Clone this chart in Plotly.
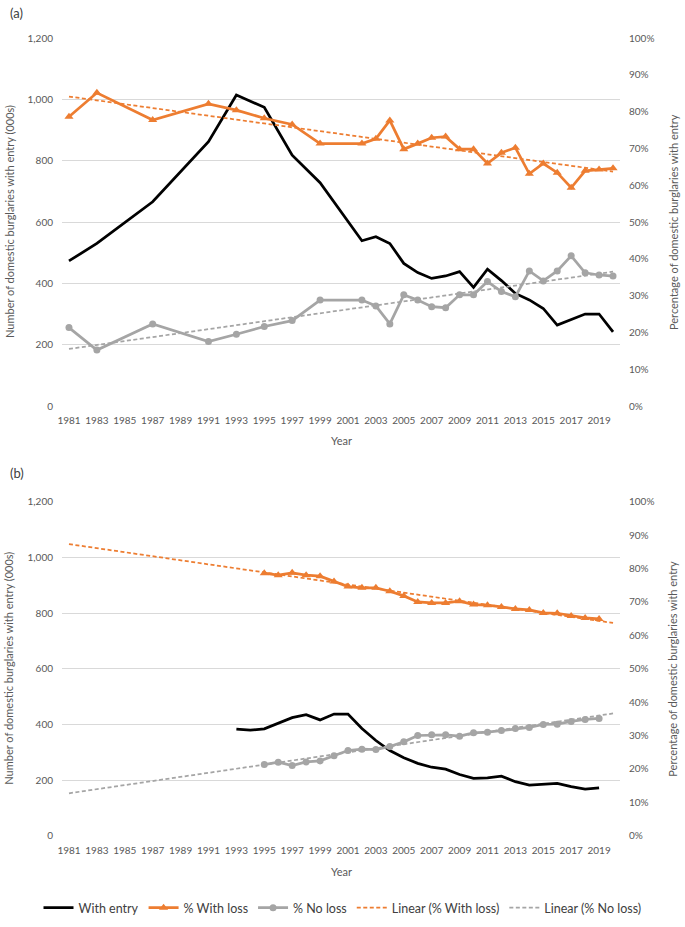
import plotly.graph_objects as go

# ---------------- data ----------------
# Panel (a)
years_a = [1981, 1983, 1987, 1991, 1993, 1995, 1997, 1999,
           2002, 2003, 2004, 2005, 2006, 2007, 2008, 2009, 2010, 2011,
           2012, 2013, 2014, 2015, 2016, 2017, 2018, 2019, 2020]
with_entry_a = [473, 530, 666, 862, 1014, 974, 818, 728,
                539, 552, 530, 465, 435, 416, 424, 438, 387, 446,
                409, 367, 346, 318, 264, 283, 300, 300, 242]
pct_with_loss_a = [78.6, 85.1, 77.7, 82.1, 80.4, 78.2, 76.5, 71.3,
                   71.3, 72.6, 77.6, 69.8, 71.3, 72.9, 73.2, 69.8, 69.8, 65.9,
                   68.8, 70.2, 63.1, 65.9, 63.4, 59.3, 63.9, 64.3, 64.6]
pct_no_loss_a = [21.3, 15.2, 22.3, 17.5, 19.5, 21.6, 23.2, 28.8,
                 28.8, 27.2, 22.3, 30.2, 28.8, 27.0, 26.7, 30.2, 30.2, 33.8,
                 31.1, 29.7, 36.7, 34.0, 36.7, 40.8, 36.2, 35.6, 35.3]

# Panel (b)
years_b_entry = list(range(1993, 2020))
with_entry_b = [383, 379, 384, 404, 424, 435, 416, 437, 437, 385, 342, 306,
                280, 260, 246, 239, 220, 206, 208, 214, 194, 182, 185, 188,
                176, 167, 172]
years_b_pct = list(range(1995, 2020))
pct_with_loss_b = [78.6, 78.0, 78.7, 78.0, 77.7, 76.1, 74.6, 74.2, 74.2, 73.2,
                   71.8, 70.0, 69.7, 69.7, 70.2, 69.2, 69.0, 68.5, 67.9, 67.6,
                   66.7, 66.6, 65.8, 65.2, 64.9]
pct_no_loss_b = [21.3, 22.0, 21.0, 22.1, 22.4, 23.9, 25.5, 25.9, 25.8, 26.7,
                 28.1, 30.0, 30.2, 30.2, 29.8, 30.8, 31.0, 31.5, 32.1, 32.4,
                 33.3, 33.4, 34.2, 34.8, 35.1]

# Linear trend lines (end points)
trend_years = [1981, 2020]
trend_a_with_loss = [84.1, 63.7]
trend_a_no_loss = [15.5, 36.5]
trend_b_with_loss = [87.3, 63.7]
trend_b_no_loss = [12.7, 36.6]

tick_years = list(range(1981, 2020, 2))
left_ticks = [0, 200, 400, 600, 800, 1000, 1200]
left_labels = ["0", "200", "400", "600", "800", "1,000", "1,200"]
right_ticks = [0, 10, 20, 30, 40, 50, 60, 70, 80, 90, 100]
right_labels = ["0%", "10%", "20%", "30%", "40%", "50%", "60%", "70%", "80%", "90%", "100%"]

# ---------------- styling ----------------
BLACK = "#000000"
ORANGE = "#ED7D31"
GREY = "#A5A5A5"
TXT = "#595959"
GRID = "#D9D9D9"
FONT = "Lato"

W, H = 685, 927
x_dom = [62 / W, 620 / W]
a_dom = [1 - 406 / H, 1 - 38 / H]
b_dom = [1 - 835.7 / H, 1 - 501.7 / H]

fig = go.Figure()


def add_panel(xa, yl, yr, yrs_entry, entry, yrs_pct, loss, noloss, t_loss, t_noloss, show):
    fig.add_trace(go.Scatter(x=yrs_entry, y=entry, mode="lines", name="With entry",
                             line=dict(color=BLACK, width=2.75),
                             xaxis=xa, yaxis=yl, showlegend=show, legendrank=1))
    fig.add_trace(go.Scatter(x=yrs_pct, y=loss, mode="lines+markers", name="% With loss",
                             line=dict(color=ORANGE, width=2.75),
                             marker=dict(symbol="triangle-up", size=8, color=ORANGE),
                             xaxis=xa, yaxis=yr, showlegend=show, legendrank=2))
    fig.add_trace(go.Scatter(x=yrs_pct, y=noloss, mode="lines+markers", name="% No loss",
                             line=dict(color=GREY, width=2.75),
                             marker=dict(symbol="circle", size=7, color=GREY),
                             xaxis=xa, yaxis=yr, showlegend=show, legendrank=3))
    fig.add_trace(go.Scatter(x=trend_years, y=t_loss, mode="lines", name="Linear (% With loss)",
                             line=dict(color=ORANGE, width=1.75, dash="4px,2.5px"),
                             xaxis=xa, yaxis=yr, showlegend=show, legendrank=4))
    fig.add_trace(go.Scatter(x=trend_years, y=t_noloss, mode="lines", name="Linear (% No loss)",
                             line=dict(color=GREY, width=1.75, dash="4px,2.5px"),
                             xaxis=xa, yaxis=yr, showlegend=show, legendrank=5))


add_panel("x", "y", "y2", years_a, with_entry_a, years_a, pct_with_loss_a, pct_no_loss_a,
          trend_a_with_loss, trend_a_no_loss, False)
add_panel("x2", "y3", "y4", years_b_entry, with_entry_b, years_b_pct, pct_with_loss_b,
          pct_no_loss_b, trend_b_with_loss, trend_b_no_loss, True)

tickfont = dict(family=FONT, size=10, color=TXT)

xcommon = dict(range=[1980.5, 2020.5], tickmode="array", tickvals=tick_years,
               ticktext=[str(y) for y in tick_years], tickangle=0,
               showgrid=False, zeroline=False, showline=False, ticks="",
               tickfont=tickfont, domain=x_dom, automargin=False, ticklabelstandoff=7)
ylcommon = dict(range=[0, 1200], tickmode="array", tickvals=left_ticks, ticktext=left_labels,
                showgrid=True, gridcolor=GRID, gridwidth=1, zeroline=False,
                showline=False, ticks="", tickfont=tickfont, automargin=False,
                ticklabelstandoff=8)
yrcommon = dict(range=[0, 100], tickmode="array", tickvals=right_ticks, ticktext=right_labels,
                showgrid=False, zeroline=False, showline=False, ticks="",
                tickfont=tickfont, side="right", automargin=False, ticklabelstandoff=8)

fig.update_layout(
    template="none",
    width=W, height=H,
    margin=dict(l=0, r=0, t=0, b=0, autoexpand=False),
    paper_bgcolor="white", plot_bgcolor="white",
    font=dict(family=FONT, color=TXT),
    xaxis=dict(**xcommon, anchor="y"),
    yaxis=dict(**ylcommon, domain=a_dom, anchor="x"),
    yaxis2=dict(**yrcommon, domain=a_dom, anchor="x", overlaying="y"),
    xaxis2=dict(**xcommon, anchor="y3"),
    yaxis3=dict(**ylcommon, domain=b_dom, anchor="x2"),
    yaxis4=dict(**yrcommon, domain=b_dom, anchor="x2", overlaying="y3"),
    legend=dict(orientation="h", x=0.5, xanchor="center", y=1 - 908 / H, yanchor="middle",
                font=dict(family=FONT, size=12.5, color="#404040"), traceorder="normal",
                itemwidth=30, bgcolor="rgba(0,0,0,0)"),
    showlegend=True,
)

annots = [
    dict(text="(a)", x=8 / W, y=1 - 13 / H, xanchor="left", yanchor="middle", font=dict(size=13, color="#404040")),
    dict(text="(b)", x=8 / W, y=1 - 473 / H, xanchor="left", yanchor="middle", font=dict(size=13, color="#404040")),
    dict(text="Year", x=341 / W, y=1 - 440 / H, xanchor="center", yanchor="middle", font=dict(size=11, color=TXT)),
    dict(text="Year", x=341 / W, y=1 - 871 / H, xanchor="center", yanchor="middle", font=dict(size=11, color=TXT)),
    dict(text="Number of domestic burglaries with entry (000s)", x=9 / W, y=1 - 222 / H,
         textangle=-90, xanchor="center", yanchor="middle", font=dict(size=11, color=TXT)),
    dict(text="Number of domestic burglaries with entry (000s)", x=9 / W, y=1 - 668.7 / H,
         textangle=-90, xanchor="center", yanchor="middle", font=dict(size=11, color=TXT)),
    dict(text="Percentage of domestic burglaries with entry", x=673 / W, y=1 - 222 / H,
         textangle=-90, xanchor="center", yanchor="middle", font=dict(size=11, color=TXT)),
    dict(text="Percentage of domestic burglaries with entry", x=673 / W, y=1 - 668.7 / H,
         textangle=-90, xanchor="center", yanchor="middle", font=dict(size=11, color=TXT)),
]
for a in annots:
    a.update(xref="paper", yref="paper", showarrow=False)
    a["font"]["family"] = FONT
fig.update_layout(annotations=annots)

fig.write_html("out.html", config={"displayModeBar": False},
               post_script="document.body.style.margin='0';")
